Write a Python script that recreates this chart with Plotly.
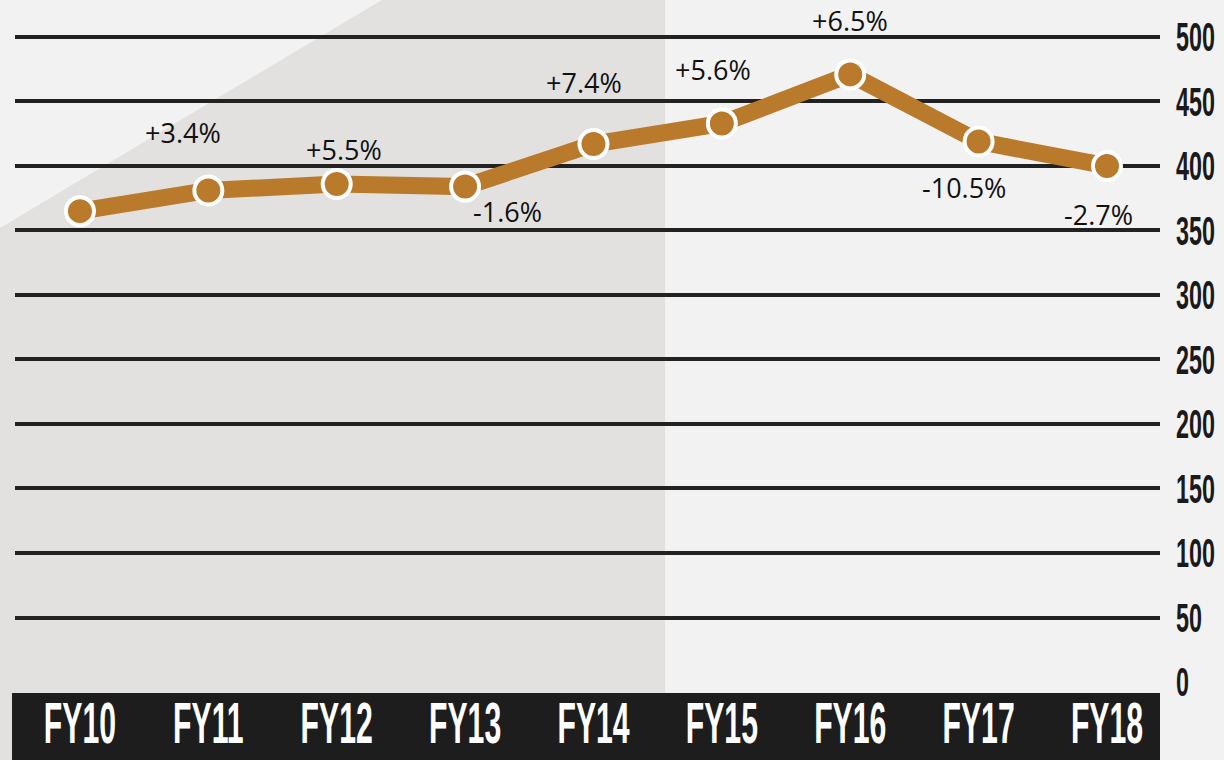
import plotly.graph_objects as go

categories = ["FY10", "FY11", "FY12", "FY13", "FY14", "FY15", "FY16", "FY17", "FY18"]
values = [365, 381, 386, 384, 417, 433, 471, 419, 400]
changes = ["", "+3.4%", "+5.5%", "-1.6%", "+7.4%", "+5.6%", "+6.5%", "-10.5%", "-2.7%"]
label_dx = [0, -25, 7, 42, -9, -9, 0, -15, -8]
label_dy = [0, 58, 35, -25, 62, 54, 54, -46, -49]
y_ticks = [0, 50, 100, 150, 200, 250, 300, 350, 400, 450, 500]

idx = list(range(len(categories)))
line_color = "#b97b2b"
bold_font = "Liberation Sans, Arial, sans-serif"

fig = go.Figure()
fig.add_trace(go.Scatter(
    x=idx, y=values, mode="lines+markers",
    line=dict(color=line_color, width=17),
    marker=dict(size=28, color=line_color, line=dict(color="white", width=4)),
    cliponaxis=False, hoverinfo="skip", showlegend=False,
))

for i, (c, dx, dy) in enumerate(zip(changes, label_dx, label_dy)):
    if c:
        fig.add_annotation(x=i, y=values[i], text=c, showarrow=False,
                           xshift=dx, yshift=dy,
                           font=dict(family="Open Sans, Noto Sans, sans-serif", size=27, color="#111111"))

# background shapes
fig.add_shape(type="path", xref="paper", yref="paper", layer="below",
              path="M -0.0131,0.7008 L 0.3275,1.06 L 0.5677,1.06 L 0.5677,-0.13 L -0.0131,-0.13 Z",
              fillcolor="#e2e1e0", line=dict(width=0))
fig.add_shape(type="rect", xref="paper", yref="paper", layer="below",
              x0=-0.0026, x1=1.0, y0=-0.0170, y1=-0.13,
              fillcolor="#1e1d1d", line=dict(width=0))

fig.update_layout(
    width=1224, height=760,
    margin=dict(l=15, r=64, t=34, b=78, autoexpand=False),
    paper_bgcolor="#f3f2f3", plot_bgcolor="rgba(0,0,0,0)",
    xaxis=dict(
        range=[-0.506, 8.413], tickmode="array", tickvals=idx, ticktext=categories,
        showgrid=False, zeroline=False, showline=False, ticks="", automargin=False,
        tickangle=0,
        tickfont=dict(family=bold_font, size=57, color="white", weight="bold"),
        ticklabelstandoff=3,
    ),
    yaxis=dict(
        range=[0, 502.3], side="right", tickmode="array", tickvals=y_ticks,
        showgrid=True, gridcolor="#222222", gridwidth=3.5,
        zeroline=False, showline=False, ticks="", automargin=False,
        tickfont=dict(family=bold_font, size=41, color="#1a1a1a", weight="bold"),
        ticklabelstandoff=15,
    ),
)

# remove page margin and emulate a condensed display face by squeezing tick labels horizontally
post = """
document.body.style.margin = '0';
document.body.style.overflow = 'hidden';
function squeeze(sel, s, anchorMid){
  document.querySelectorAll(sel).forEach(function(t){
    var bb = t.getBBox();
    var cx = anchorMid ? (bb.x + bb.width/2) : bb.x;
    var tr = t.getAttribute('transform') || '';
    t.setAttribute('transform', tr + ' translate(' + cx + ',0) scale(' + s + ',1) translate(' + (-cx) + ',0)');
  });
}
squeeze('.xtick text', 0.53, true);
squeeze('.ytick text', 0.57, false);
"""

fig.write_html("out.html", post_script=post, config={"displayModeBar": False})
